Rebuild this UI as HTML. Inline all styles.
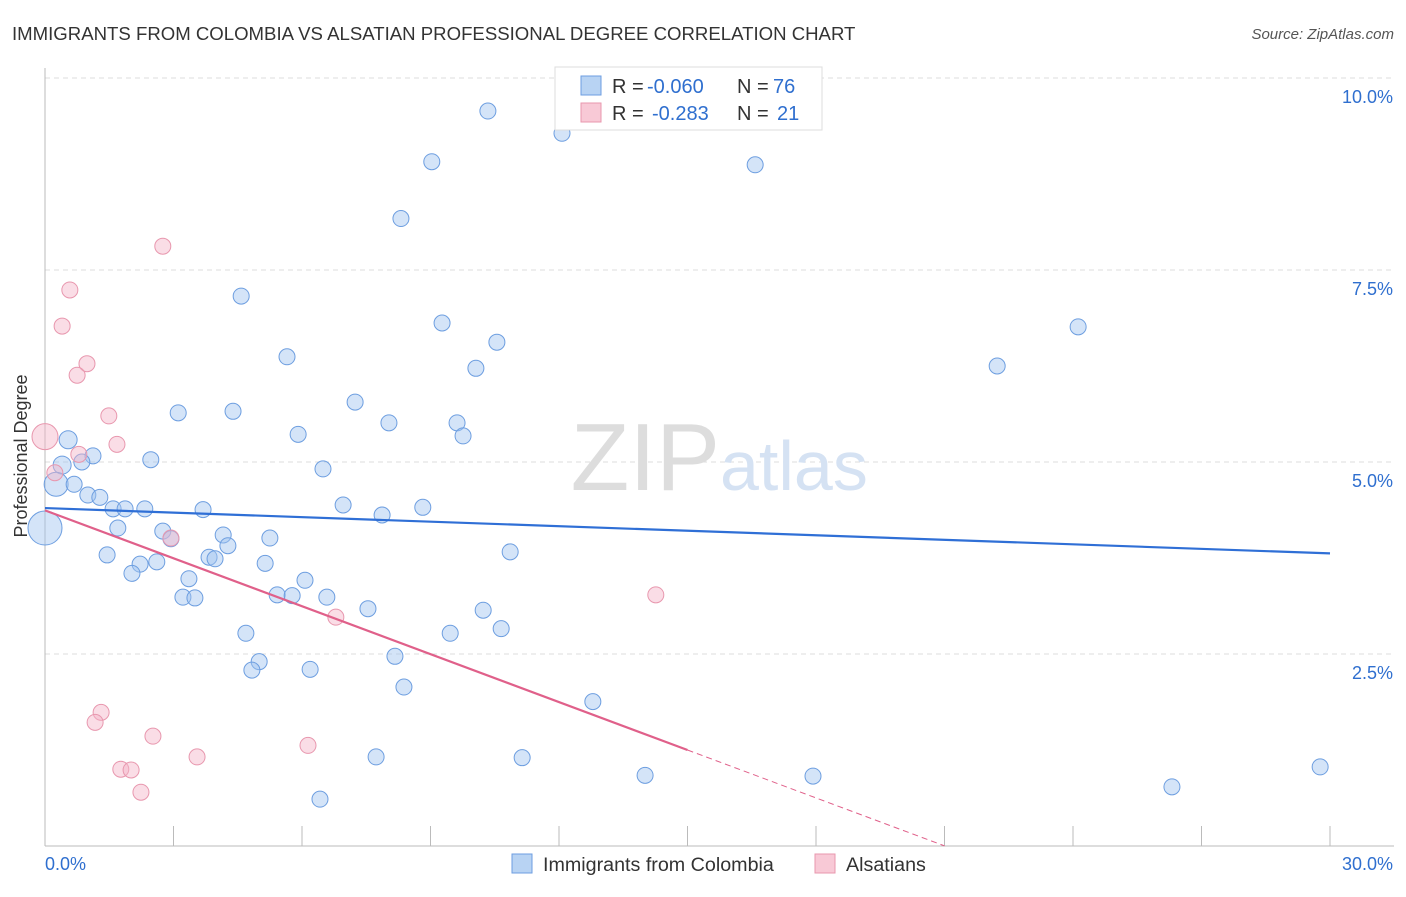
<!DOCTYPE html>
<html><head><meta charset="utf-8"><style>
body{margin:0;background:#fff;font-family:"Liberation Sans",sans-serif;}
svg text{font-family:"Liberation Sans",sans-serif;}
</style></head><body>
<svg id="chart" width="1406" height="892">
<text x="12" y="40" font-size="18.6" fill="#333">IMMIGRANTS FROM COLOMBIA VS ALSATIAN PROFESSIONAL DEGREE CORRELATION CHART</text>
<text x="1394" y="39" font-size="15" fill="#555" font-style="italic" text-anchor="end">Source: ZipAtlas.com</text>
<g id="grid"></g>
<text x="720" y="490" font-size="96" fill="#ddd" text-anchor="end" font-family="Liberation Serif">ZIP</text>
<text x="720" y="490" font-size="70" fill="#d5e2f3">atlas</text>
<g id="marks"></g>
<text x="27" y="456" font-size="18" fill="#333" text-anchor="middle" transform="rotate(-90 27 456)">Professional Degree</text>
<g>
<rect x="555" y="67" width="267" height="63" fill="#fff" stroke="#ddd"/>
<rect x="581" y="76" width="20" height="19" fill="#b8d3f3" stroke="#6d9ee0"/>
<rect x="581" y="103" width="20" height="19" fill="#f8c9d6" stroke="#e897ae"/>
<text x="612" y="93" font-size="20" fill="#333">R =</text>
<text x="647" y="93" font-size="20" fill="#2f6fcf">-0.060</text>
<text x="737" y="93" font-size="20" fill="#333">N =</text>
<text x="773" y="93" font-size="20" fill="#2f6fcf">76</text>
<text x="612" y="120" font-size="20" fill="#333">R =</text>
<text x="652" y="120" font-size="20" fill="#2f6fcf">-0.283</text>
<text x="737" y="120" font-size="20" fill="#333">N =</text>
<text x="777" y="120" font-size="20" fill="#2f6fcf">21</text>
</g>
<g>
<rect x="512" y="854" width="20" height="19" fill="#b8d3f3" stroke="#6d9ee0"/>
<text x="543" y="871" font-size="19.7" fill="#333">Immigrants from Colombia</text>
<rect x="815" y="854" width="20" height="19" fill="#f8c9d6" stroke="#e897ae"/>
<text x="846" y="871" font-size="19.7" fill="#333">Alsatians</text>
</g>
</svg>
<script>
const xTicks=[0,3,6,9,12,15,18,21,24,27,30];
const yTicks=[2.5,5,7.5,10];
const yTickLabels=["2.5%","5.0%","7.5%","10.0%"];
const xTickLabels=["0.0%","30.0%"];
const blueX=[10.34,12.07,9.03,16.58,8.31,4.58,9.27,24.12,10.55,5.65,10.06,22.23,7.24,3.11,4.39,8.03,9.62,9.76,5.91,0.54,2.47,1.12,0.86,0.40,6.49,0.26,0.68,1.00,1.28,6.96,8.82,1.59,1.87,2.33,3.69,7.87,1.70,2.75,4.16,2.94,5.25,4.27,1.45,10.86,3.83,3.97,2.61,5.14,2.22,2.03,3.36,6.07,3.22,3.50,5.42,5.77,6.58,7.54,10.23,10.65,9.46,4.69,8.17,5.00,4.83,6.19,8.38,12.79,7.73,11.14,14.01,17.93,26.31,29.77,6.42,0];
const blueY=[9.57,9.28,8.91,8.87,8.17,7.16,6.81,6.76,6.56,6.37,6.22,6.25,5.78,5.64,5.66,5.51,5.51,5.34,5.36,5.29,5.03,5.08,5.00,4.96,4.91,4.71,4.71,4.57,4.54,4.44,4.41,4.39,4.39,4.39,4.38,4.31,4.14,4.10,4.05,4.00,4.01,3.91,3.79,3.83,3.76,3.74,3.70,3.68,3.67,3.55,3.48,3.46,3.24,3.23,3.27,3.26,3.24,3.09,3.07,2.83,2.77,2.77,2.47,2.40,2.29,2.30,2.07,1.88,1.16,1.15,0.92,0.91,0.77,1.03,0.61,4.14];
const blueR=[8,8,8,8,8,8,8,8,8,8,8,8,8,8,8,8,8,8,8,9,8,8,8,9,8,12,8,8,8,8,8,8,8,8,8,8,8,8,8,8,8,8,8,8,8,8,8,8,8,8,8,8,8,8,8,8,8,8,8,8,8,8,8,8,8,8,8,8,8,8,8,8,8,8,8,17];
const pinkX=[2.75,0.58,0.40,0.98,0.75,1.49,1.68,0.79,0.23,0,2.94,14.26,6.79,1.31,1.17,2.52,3.55,6.14,1.77,2.01,2.24];
const pinkY=[7.81,7.24,6.77,6.28,6.13,5.60,5.23,5.10,4.86,5.33,4.01,3.27,2.98,1.74,1.61,1.43,1.16,1.31,1.00,0.99,0.70];
const pinkR=[8,8,8,8,8,8,8,8,8,13,8,8,8,8,8,8,8,8,8,8,8];
const blueTrend=[4.40,3.81];
const pinkTrend=[4.37,-1.87];
const pinkSolidEnd=15.0;
const pinkDashEnd=21.0;
const X=v=>45+v/30*1285, Y=v=>846-v/10*768;
const NS="http://www.w3.org/2000/svg";
const grid=document.getElementById('grid'), marks=document.getElementById('marks');
function mk(tag,at,parent){const e=document.createElementNS(NS,tag);for(const k in at)e.setAttribute(k,at[k]);parent.appendChild(e);return e;}
yTicks.forEach((t,i)=>{
 const l=mk('line',{x1:45,x2:1394,y1:Y(t),y2:Y(t),stroke:'#ddd','stroke-dasharray':'5,4'},grid);
 
 
 const tx=mk('text',{x:1393,y:Y(t)+25,'font-size':18,fill:'#2f6fcf','text-anchor':'end'},grid);
 tx.textContent=yTickLabels[i];
 
 
});
mk('line',{x1:45,x2:45,y1:68,y2:846,stroke:'#bbb'},grid);
mk('line',{x1:45,x2:1394,y1:846,y2:846,stroke:'#bbb'},grid);
xTicks.forEach(t=>{const l=mk('line',{x1:X(t),x2:X(t),y1:826,y2:846,stroke:'#bbb'},grid);
 
 });
const xl0=mk('text',{x:45,y:870,'font-size':18,fill:'#2f6fcf'},grid);xl0.textContent=xTickLabels[0];


const xl1=mk('text',{x:1393,y:870,'font-size':18,fill:'#2f6fcf','text-anchor':'end'},grid);xl1.textContent=xTickLabels[1];


blueX.forEach((v,i)=>{const c=mk('circle',{cx:X(v),cy:Y(blueY[i]),r:blueR[i],fill:'rgba(160,195,240,0.45)',stroke:'#6d9ee0','stroke-width':1},marks);
 
 });
pinkX.forEach((v,i)=>{const c=mk('circle',{cx:X(v),cy:Y(pinkY[i]),r:pinkR[i],fill:'rgba(245,180,200,0.45)',stroke:'#e897ae','stroke-width':1},marks);
 
 });
const bt=mk('line',{x1:X(0),y1:Y(blueTrend[0]),x2:X(30),y2:Y(blueTrend[1]),stroke:'#2f6fd6','stroke-width':2.2},marks);


const py=x=>pinkTrend[0]+(pinkTrend[1]-pinkTrend[0])*x/30;
const pt=mk('line',{x1:X(0),y1:Y(pinkTrend[0]),x2:X(pinkSolidEnd),y2:Y(py(pinkSolidEnd)),stroke:'#e0608a','stroke-width':2.2},marks);


const pd=mk('line',{x1:X(pinkSolidEnd),y1:Y(py(pinkSolidEnd)),x2:X(pinkDashEnd),y2:Y(py(pinkDashEnd)),stroke:'#e0608a','stroke-width':1,'stroke-dasharray':'6,4'},marks);


</script>
</body></html>
